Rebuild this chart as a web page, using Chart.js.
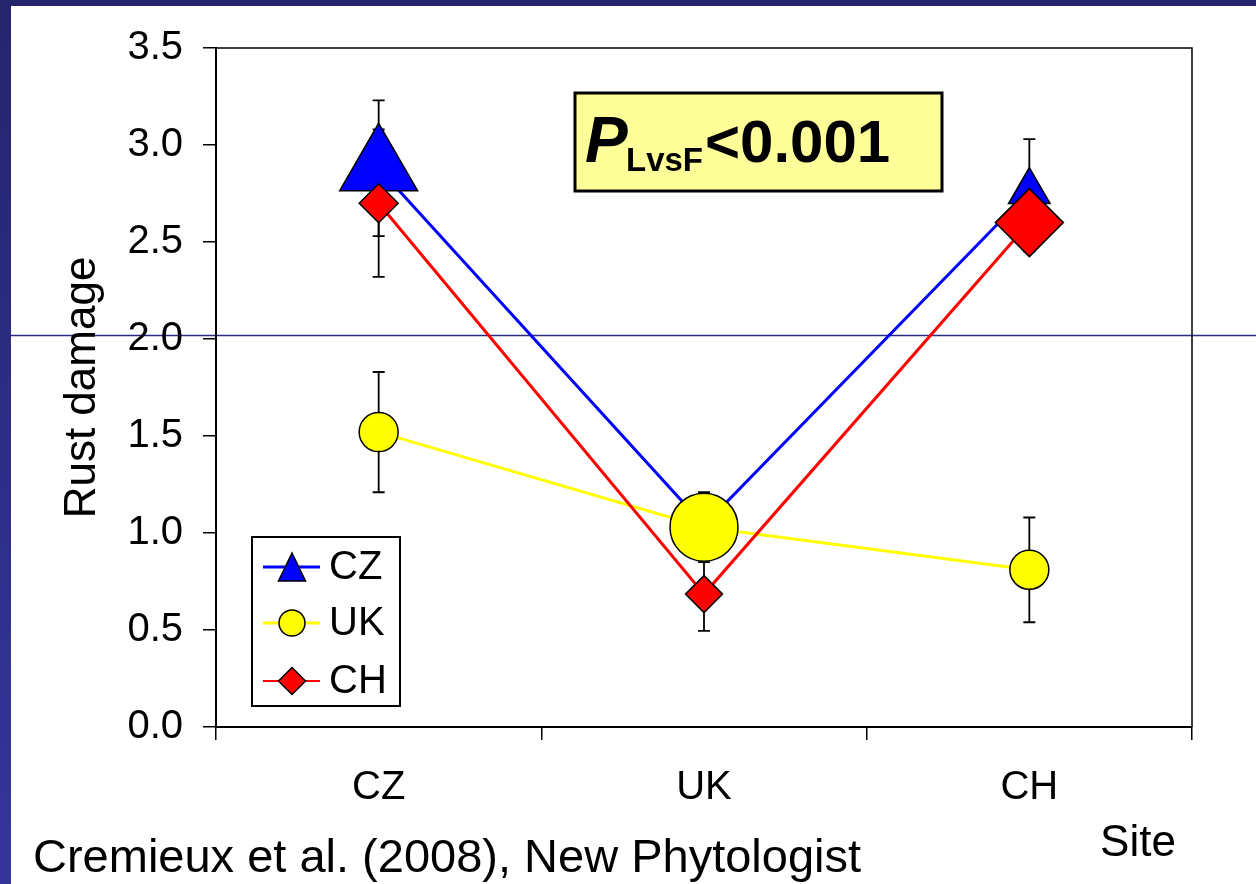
<!DOCTYPE html>
<html>
<head>
<meta charset="utf-8">
<script src="https://cdn.jsdelivr.net/npm/chart.js@4/dist/chart.umd.min.js"></script>
<style>
  html, body { margin: 0; padding: 0; background: #2a2a80; }
  #wrap { width: 1256px; height: 884px; position: relative; }
</style>
</head>
<body>
<div id="wrap"><canvas id="rustChart" width="1256" height="884"></canvas></div>
<script>
const FONT = "'Liberation Sans', Arial, sans-serif";

// sites on the x axis
const sites = ["CZ", "UK", "CH"];
// mean rust damage per origin population, and standard errors
const czValues = [2.88, 1.04, 2.76];
const czErrors = [0.35, 0.15, 0.27];
const ukValues = [1.52, 1.03, 0.81];
const ukErrors = [0.31, 0.18, 0.27];
const chValues = [2.70, 0.685, 2.60];
const chErrors = [0.38, 0.19, 0.15];
const yTicks = [0, 0.5, 1.0, 1.5, 2.0, 2.5, 3.0, 3.5];

const errorsByLabel = { CZ: czErrors, UK: ukErrors, CH: chErrors };

// slide background, white panel and the stray horizontal rule
const slideBackground = {
  id: "slideBackground",
  beforeDraw(chart) {
    const ctx = chart.ctx;
    ctx.save();
    const g = ctx.createLinearGradient(0, 0, 0, 884);
    g.addColorStop(0, "#25256e");
    g.addColorStop(1, "#35359e");
    ctx.fillStyle = g;
    ctx.fillRect(0, 0, 1256, 884);
    ctx.fillStyle = "#ffffff";
    ctx.fillRect(11, 6, 1245, 878);
    ctx.strokeStyle = "#2b2b85";
    ctx.lineWidth = 1.5;
    ctx.beginPath();
    ctx.moveTo(11, 335.5);
    ctx.lineTo(1256, 335.5);
    ctx.stroke();
    ctx.restore();
  }
};

// frame (top + right), then error bars under the markers
const errorBars = {
  id: "errorBars",
  beforeDatasetsDraw(chart) {
    const ctx = chart.ctx;
    const area = chart.chartArea;
    const y = chart.scales.y;
    ctx.save();
    ctx.strokeStyle = "#000";
    ctx.lineWidth = 1.5;
    ctx.beginPath();
    ctx.moveTo(area.left, area.top);
    ctx.lineTo(area.right, area.top);
    ctx.lineTo(area.right, area.bottom);
    ctx.stroke();

    ctx.lineWidth = 1.8;
    chart.data.datasets.forEach((ds, i) => {
      const meta = chart.getDatasetMeta(i);
      const errs = errorsByLabel[ds.label];
      meta.data.forEach((pt, j) => {
        const v = ds.data[j];
        const top = y.getPixelForValue(v + errs[j]);
        const bot = y.getPixelForValue(v - errs[j]);
        ctx.beginPath();
        ctx.moveTo(pt.x, top);
        ctx.lineTo(pt.x, bot);
        ctx.moveTo(pt.x - 6, top);
        ctx.lineTo(pt.x + 6, top);
        ctx.moveTo(pt.x - 6, bot);
        ctx.lineTo(pt.x + 6, bot);
        ctx.stroke();
      });
    });
    ctx.restore();
  }
};

// legend box, p-value box and loose texts
const annotations = {
  id: "annotations",
  afterDraw(chart) {
    const ctx = chart.ctx;
    ctx.save();

    // legend
    ctx.fillStyle = "#fff";
    ctx.fillRect(252, 537, 148, 169);
    ctx.strokeStyle = "#000";
    ctx.lineWidth = 2;
    ctx.strokeRect(252, 537, 148, 169);

    const rows = [
      { label: "CZ", color: "#0000ff", y: 567, lw: 3, shape: "tri" },
      { label: "UK", color: "#ffff00", y: 623, lw: 3, shape: "circ" },
      { label: "CH", color: "#ff0000", y: 681, lw: 2, shape: "dia" }
    ];
    rows.forEach(r => {
      ctx.strokeStyle = r.color;
      ctx.lineWidth = r.lw;
      ctx.beginPath();
      ctx.moveTo(263, r.y);
      ctx.lineTo(320, r.y);
      ctx.stroke();
      ctx.fillStyle = r.color;
      ctx.strokeStyle = "#000";
      ctx.lineWidth = 1.5;
      ctx.beginPath();
      if (r.shape === "tri") {
        ctx.moveTo(292, 553);
        ctx.lineTo(305.5, 581);
        ctx.lineTo(278.5, 581);
        ctx.closePath();
      } else if (r.shape === "circ") {
        ctx.arc(292, r.y, 13, 0, Math.PI * 2);
      } else {
        ctx.moveTo(292, r.y - 13.5);
        ctx.lineTo(305.5, r.y);
        ctx.lineTo(292, r.y + 13.5);
        ctx.lineTo(278.5, r.y);
        ctx.closePath();
      }
      ctx.fill();
      ctx.stroke();
      ctx.fillStyle = "#000";
      ctx.font = "40px " + FONT;
      ctx.textBaseline = "middle";
      ctx.textAlign = "left";
      ctx.fillText(r.label, 329, r.y + 1);
    });

    // p-value box
    ctx.fillStyle = "#ffff99";
    ctx.fillRect(575, 93, 367, 98);
    ctx.strokeStyle = "#000";
    ctx.lineWidth = 3;
    ctx.strokeRect(575, 93, 367, 98);
    ctx.fillStyle = "#000";
    ctx.textBaseline = "alphabetic";
    ctx.font = "italic bold 64px " + FONT;
    ctx.fillText("P", 585, 162);
    ctx.font = "bold 33px " + FONT;
    ctx.fillText("LvsF", 626, 171);
    ctx.font = "bold 60px " + FONT;
    ctx.fillText("<0.001", 705, 162);

    // x axis name and citation
    ctx.font = "44px " + FONT;
    ctx.textAlign = "center";
    ctx.textBaseline = "middle";
    ctx.fillText("Site", 1138, 844);
    ctx.font = "47px " + FONT;
    ctx.textAlign = "left";
    ctx.fillText("Cremieux et al. (2008), New Phytologist", 33, 859);
    ctx.restore();
  }
};

new Chart(document.getElementById("rustChart"), {
  type: "line",
  data: {
    labels: sites,
    datasets: [
      {
        label: "CZ",
        data: czValues,
        order: 3,
        borderColor: "#0000ff",
        borderWidth: 3,
        pointStyle: "triangle",
        pointRadius: [45, 20, 24],
        pointBackgroundColor: "#0000ff",
        pointBorderColor: "#000",
        pointBorderWidth: 1.5,
        tension: 0
      },
      {
        label: "UK",
        data: ukValues,
        order: 2,
        borderColor: "#ffff00",
        borderWidth: 3,
        pointStyle: "circle",
        pointRadius: [19.5, 34, 19.5],
        pointBackgroundColor: "#ffff00",
        pointBorderColor: "#000",
        pointBorderWidth: 1.5,
        tension: 0
      },
      {
        label: "CH",
        data: chValues,
        order: 1,
        borderColor: "#ff0000",
        borderWidth: 3,
        pointStyle: "rectRot",
        pointRadius: [19.5, 18.5, 34],
        pointBackgroundColor: "#ff0000",
        pointBorderColor: "#000",
        pointBorderWidth: 1.5,
        tension: 0
      }
    ]
  },
  options: {
    responsive: false,
    animation: false,
    events: [],
    layout: { padding: { top: 48, right: 64, left: 0, bottom: 0 } },
    plugins: {
      legend: { display: false },
      tooltip: { enabled: false }
    },
    scales: {
      x: {
        type: "category",
        offset: true,
        afterFit(scale) { scale.height = 157; },
        grid: {
          offset: true,
          drawOnChartArea: false,
          drawTicks: true,
          tickLength: 13,
          color: "#000",
          lineWidth: 1.5
        },
        border: { display: true, color: "#000", width: 2 },
        ticks: {
          color: "#000",
          padding: 24,
          font: { family: FONT, size: 40 }
        }
      },
      y: {
        min: 0,
        max: 3.5,
        afterFit(scale) { scale.width = 216; },
        afterBuildTicks(scale) { scale.ticks = yTicks.map(v => ({ value: v })); },
        grid: {
          drawOnChartArea: false,
          drawTicks: true,
          tickLength: 13,
          color: "#000",
          lineWidth: 1.5
        },
        border: { display: true, color: "#000", width: 2 },
        ticks: {
          color: "#000",
          padding: 20,
          font: { family: FONT, size: 40 },
          callback: v => Number(v).toFixed(1)
        },
        title: {
          display: true,
          text: "Rust damage",
          color: "#000",
          font: { family: FONT, size: 44 },
          padding: { top: 56, bottom: 0 }
        }
      }
    }
  },
  plugins: [slideBackground, errorBars, annotations]
});
</script>
</body>
</html>
